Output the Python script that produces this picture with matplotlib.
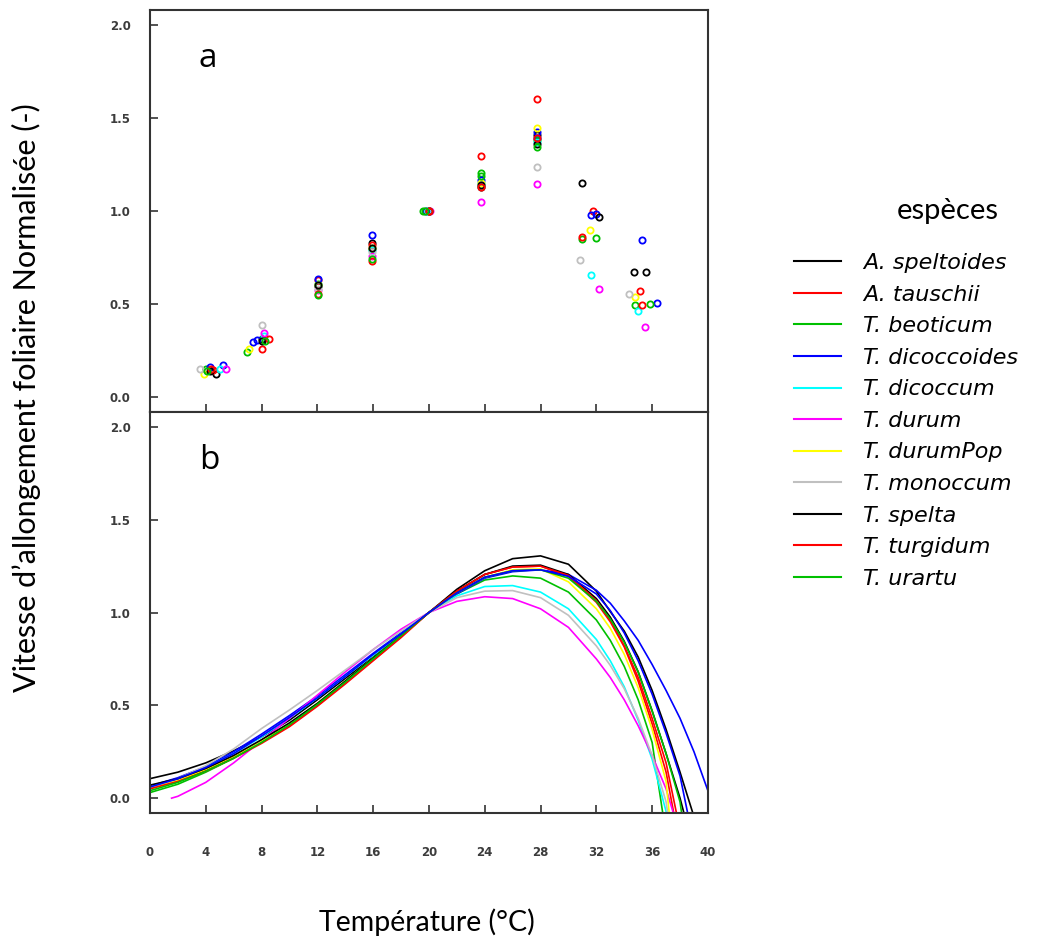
import numpy as np
import matplotlib
matplotlib.use("Agg")
import matplotlib.pyplot as plt

# species and colours (S-PLUS like palette)
species = ["A. speltoides", "A. tauschii", "T. beoticum", "T. dicoccoides", "T. dicoccum",
           "T. durum", "T. durumPop", "T. monoccum", "T. spelta", "T. turgidum", "T. urartu"]
colors = ["#000000", "#ff0000", "#00c000", "#0000ff", "#00ffff",
          "#ff00ff", "#ffff00", "#c0c0c0", "#000000", "#ff0000", "#00c000"]

# panel a : measured normalised rates
obs_temp = [
    [4.75, 8.0, 12.08, 15.95, 20.0, 23.73, 27.73, 30.99, 34.67],
    [4.53, 8.05, 12.08, 15.95, 20.0, 23.73, 27.73, 31.73, 35.12],
    [4.0, 6.93, 12.08, 15.95, 19.55, 23.73, 27.73, 30.99, 34.8],
    [4.27, 5.2, 7.4, 7.65, 12.08, 15.95, 19.8, 23.73, 27.73, 27.73, 31.6, 32.0, 35.28, 36.35],
    [5.0, 8.2, 12.08, 15.95, 19.9, 23.73, 27.73, 31.65, 35.0],
    [5.47, 8.2, 12.08, 15.95, 20.05, 23.73, 27.73, 32.2, 35.52],
    [3.87, 7.07, 12.08, 15.95, 20.0, 23.73, 27.73, 31.55, 34.8],
    [3.6, 8.05, 12.08, 15.95, 20.0, 23.73, 27.73, 30.8, 34.35],
    [4.3, 8.0, 12.08, 15.95, 20.0, 23.73, 27.73, 32.2, 35.55],
    [4.4, 8.53, 12.08, 15.95, 20.0, 23.73, 27.73, 30.99, 35.28],
    [4.1, 8.27, 12.08, 15.95, 19.7, 23.73, 27.73, 31.95, 35.87],
]
obs_rate = [
    [0.125, 0.314, 0.595, 0.828, 1.0, 1.129, 1.407, 1.152, 0.672],
    [0.143, 0.26, 0.627, 0.815, 1.0, 1.296, 1.60, 1.0, 0.568],
    [0.152, 0.242, 0.61, 0.797, 1.0, 1.204, 1.38, 0.851, 0.493],
    [0.161, 0.17, 0.296, 0.305, 0.636, 0.87, 1.0, 1.165, 1.425, 1.39, 0.977, 0.986, 0.842, 0.507],
    [0.15, 0.33, 0.60, 0.79, 1.0, 1.15, 1.37, 0.654, 0.462],
    [0.15, 0.346, 0.573, 0.76, 1.0, 1.048, 1.147, 0.58, 0.376],
    [0.125, 0.26, 0.60, 0.80, 1.0, 1.15, 1.446, 0.896, 0.538],
    [0.152, 0.39, 0.58, 0.78, 1.0, 1.14, 1.237, 0.735, 0.552],
    [0.14, 0.30, 0.60, 0.80, 1.0, 1.14, 1.362, 0.968, 0.672],
    [0.15, 0.314, 0.556, 0.731, 1.0, 1.129, 1.39, 0.86, 0.496],
    [0.14, 0.30, 0.547, 0.744, 1.0, 1.19, 1.344, 0.855, 0.498],
]

# panel b : fitted response curves
g = [0, 2, 4, 6, 8, 10, 12, 14, 16, 18, 20, 22, 24, 26, 28, 30, 32, 33, 34, 35, 36]
fit_temp = [
    g + [37, 38, 39],
    g + [37, 37.6],
    g + [36.8],
    g + [37, 38, 39, 40],
    g + [37.1],
    [1.55] + g[1:] + [37, 37.6],
    g + [37, 37.25],
    g + [37, 37.15],
    g + [37, 38, 38.35],
    g + [37, 37.8],
    g + [37, 38, 38.15],
    g + [37, 38, 38.6],   # second T. dicoccoides curve
]
fit_rate = [
    [0.105, 0.14, 0.19, 0.255, 0.33, 0.42, 0.53, 0.645, 0.76, 0.88, 1.0,
     1.125, 1.225, 1.29, 1.305, 1.26, 1.115, 1.005, 0.90, 0.76, 0.58, 0.37, 0.14, -0.10],
    [0.055, 0.095, 0.15, 0.22, 0.30, 0.39, 0.50, 0.62, 0.745, 0.87, 1.0,
     1.115, 1.205, 1.245, 1.25, 1.195, 1.055, 0.95, 0.815, 0.63, 0.40, 0.14, -0.10],
    [0.03, 0.075, 0.14, 0.215, 0.305, 0.40, 0.51, 0.63, 0.755, 0.875, 1.0,
     1.10, 1.175, 1.197, 1.185, 1.11, 0.96, 0.85, 0.71, 0.53, 0.30, -0.10],
    [0.065, 0.11, 0.17, 0.25, 0.345, 0.445, 0.55, 0.665, 0.78, 0.89, 1.0,
     1.10, 1.185, 1.22, 1.23, 1.205, 1.12, 1.05, 0.955, 0.85, 0.72, 0.58, 0.43, 0.25, 0.04],
    [0.06, 0.10, 0.165, 0.24, 0.33, 0.43, 0.54, 0.655, 0.77, 0.885, 1.0,
     1.09, 1.14, 1.145, 1.11, 1.02, 0.855, 0.74, 0.60, 0.42, 0.21, -0.10],
    [0.0, 0.01, 0.085, 0.19, 0.31, 0.43, 0.555, 0.68, 0.80, 0.91, 1.0,
     1.06, 1.085, 1.075, 1.02, 0.92, 0.75, 0.65, 0.53, 0.39, 0.23, 0.05, -0.10],
    [0.055, 0.095, 0.155, 0.225, 0.31, 0.40, 0.51, 0.63, 0.755, 0.875, 1.0,
     1.105, 1.19, 1.23, 1.235, 1.165, 1.02, 0.915, 0.775, 0.595, 0.37, 0.09, -0.10],
    [0.06, 0.105, 0.175, 0.265, 0.375, 0.475, 0.58, 0.69, 0.80, 0.90, 1.0,
     1.08, 1.115, 1.118, 1.08, 0.985, 0.82, 0.715, 0.59, 0.43, 0.23, -0.02, -0.10],
    [0.07, 0.105, 0.16, 0.23, 0.315, 0.405, 0.51, 0.63, 0.755, 0.875, 1.0,
     1.115, 1.205, 1.25, 1.255, 1.205, 1.075, 0.975, 0.845, 0.68, 0.47, 0.24, 0.0, -0.10],
    [0.05, 0.09, 0.145, 0.215, 0.295, 0.385, 0.495, 0.615, 0.74, 0.865, 1.0,
     1.115, 1.205, 1.245, 1.25, 1.20, 1.065, 0.96, 0.82, 0.65, 0.43, 0.19, -0.10],
    [0.04, 0.085, 0.145, 0.215, 0.30, 0.395, 0.505, 0.625, 0.75, 0.875, 1.0,
     1.105, 1.19, 1.225, 1.23, 1.185, 1.06, 0.965, 0.84, 0.68, 0.47, 0.24, -0.02, -0.10],
    [0.06, 0.105, 0.165, 0.24, 0.335, 0.435, 0.54, 0.655, 0.775, 0.885, 1.0,
     1.105, 1.19, 1.225, 1.23, 1.195, 1.10, 1.01, 0.89, 0.74, 0.56, 0.35, 0.12, -0.10],
]
fit_color = colors + ["#0000ff"]

xticks = [0, 4, 8, 12, 16, 20, 24, 28, 32, 36, 40]
yticks = [0.0, 0.5, 1.0, 1.5, 2.0]

fig = plt.figure(figsize=(10.4, 9.4), dpi=100)
ax1 = fig.add_axes([0.1442, 0.5617, 0.5365, 0.4277])
ax2 = fig.add_axes([0.1442, 0.1351, 0.5365, 0.4266])

tickfont = dict(family="DejaVu Sans", size=8.5, weight="bold")
for ax in (ax1, ax2):
    ax.set_xlim(0, 40)
    ax.set_ylim(-0.08, 2.08)
    ax.set_yticks(yticks)
    ax.set_yticklabels(["%.1f" % v for v in yticks], fontdict=tickfont, color="#3c3c3c")
    ax.set_xticks(xticks)
    ax.tick_params(direction="in", length=6, width=1.2, color="#333333")
    ax.tick_params(axis="y", pad=14)
    ax.tick_params(axis="x", pad=24)
    for s in ax.spines.values():
        s.set_linewidth(1.5)
        s.set_color("#333333")

ax1.set_xticklabels([])
ax2.set_xticklabels([str(v) for v in xticks], fontdict=tickfont, color="#3c3c3c")

for i in range(len(species)):
    ax1.plot(obs_temp[i], obs_rate[i], "o", ms=4.5, mfc="none", mec=colors[i], mew=1.3,
             linestyle="none")

lines = []
for i in range(len(fit_temp)):
    ln, = ax2.plot(fit_temp[i], fit_rate[i], color=fit_color[i], lw=1.2)
    lines.append(ln)

ax1.text(3.5, 1.82, "a", fontsize=24, family="Open Sans", ha="left", va="center")
ax2.text(3.5, 1.82, "b", fontsize=24, family="Open Sans", ha="left", va="center")

fig.text(26 / 1040, 1 - 398 / 940, "Vitesse d\u2019allongement foliaire Normalisée (-)",
         rotation=90, ha="center", va="center", fontsize=22, family="Lato")
fig.text(427 / 1040, 1 - 922 / 940, "Température (°C)", ha="center", va="center",
         fontsize=20.5, family="Lato")

fig.text(948 / 1040, 1 - 211 / 940, "espèces", ha="center", va="center",
         fontsize=21, family="Lato")
leg = fig.legend(lines[:len(species)], species, loc="upper left",
                 bbox_to_anchor=(783 / 1040, 1 - 242 / 940), frameon=False,
                 prop=dict(family="DejaVu Sans", style="italic", size=16),
                 handlelength=2.1, handletextpad=1.0, labelspacing=0.52, borderpad=0)
for h in leg.get_lines():
    h.set_linewidth(1.5)

fig.savefig("out.png", dpi=100)
